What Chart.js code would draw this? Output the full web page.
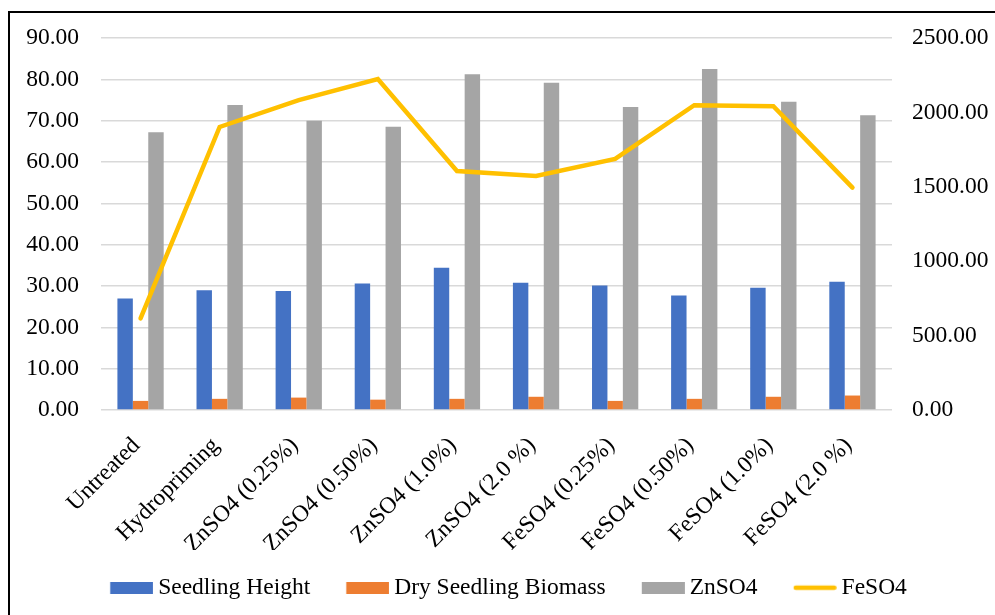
<!DOCTYPE html>
<html>
<head>
<meta charset="utf-8">
<script src="https://cdn.jsdelivr.net/npm/chart.js@4/dist/chart.umd.min.js"></script>
<style>
  html, body { margin: 0; padding: 0; background: #fff; overflow: hidden; }
  #wrap { position: relative; width: 995px; height: 615px; }
  #frame { position: absolute; left: 8px; top: 11px; width: 1100px; height: 700px; border: 2px solid #000; box-sizing: border-box; }
  canvas { position: absolute; left: 0; top: 0; }
</style>
</head>
<body>
<div id="wrap">
  <div id="frame"></div>
  <canvas id="c" width="995" height="615"></canvas>
</div>
<script>
const treatments = ['Untreated', 'Hydropriming', 'ZnSO4 (0.25%)', 'ZnSO4 (0.50%)', 'ZnSO4 (1.0%)',
  'ZnSO4 (2.0 %)', 'FeSO4 (0.25%)', 'FeSO4 (0.50%)', 'FeSO4 (1.0%)', 'FeSO4 (2.0 %)'];
const seedlingHeight = [27.0, 29.0, 28.8, 30.6, 34.4, 30.8, 30.1, 27.7, 29.6, 31.0];
const drySeedlingBiomass = [2.2, 2.7, 3.0, 2.5, 2.7, 3.2, 2.2, 2.7, 3.2, 3.5];
const znso4 = [67.2, 73.8, 70.0, 68.5, 81.2, 79.2, 73.3, 82.5, 74.6, 71.3];
const feso4 = [616, 1902, 2083, 2224, 1606, 1573, 1687, 2048, 2041, 1494];
const leftTicks = [0, 10, 20, 30, 40, 50, 60, 70, 80, 90];
const rightTicks = [0, 500, 1000, 1500, 2000, 2500];

const FONT = { family: '"Liberation Serif", "Times New Roman", serif', size: 23.5 };
const INK = '#000';

// Legend keys are drawn off-screen: a wide slot whose swatch hugs the right
// edge, so each key sits close to its own text and far from the previous one.
const KEY_W = 46.25;
function keySwatch(color, isLine) {
  const c = document.createElement('canvas');
  c.width = 60; c.height = 12;
  const g = c.getContext('2d');
  if (isLine) {
    g.strokeStyle = color; g.lineWidth = 4.5; g.lineCap = 'round';
    g.beginPath(); g.moveTo(19, 6); g.lineTo(57.5, 6); g.stroke();
  } else {
    g.fillStyle = color; g.fillRect(16.9, 0, 43, 12);
  }
  return c;
}

new Chart(document.getElementById('c'), {
  data: {
    labels: treatments,
    datasets: [
      { type: 'bar', label: 'Seedling Height', data: seedlingHeight, backgroundColor: '#4472C4', yAxisID: 'y', order: 1 },
      { type: 'bar', label: 'Dry Seedling Biomass', data: drySeedlingBiomass, backgroundColor: '#ED7D31', yAxisID: 'y', order: 1 },
      { type: 'bar', label: 'ZnSO4', data: znso4, backgroundColor: '#A5A5A5', yAxisID: 'y', order: 1 },
      { type: 'line', label: 'FeSO4', data: feso4, borderColor: '#FFC000', backgroundColor: '#FFC000',
        borderWidth: 4.5, borderCapStyle: 'round', borderJoinStyle: 'miter', pointRadius: 0, tension: 0,
        yAxisID: 'y1', order: 0 }
    ]
  },
  options: {
    responsive: false,
    animation: false,
    events: [],
    layout: { padding: { left: 12, right: 0, top: 38, bottom: 5.5 } },
    datasets: { bar: { categoryPercentage: 0.585, barPercentage: 1.0 } },
    scales: {
      x: {
        grid: { display: false },
        border: { display: false },
        ticks: { font: FONT, color: INK, minRotation: 45, maxRotation: 45, padding: 14, labelOffset: -4, autoSkip: false },
        afterFit(s) { s.height = 140; }
      },
      y: {
        position: 'left', min: 0, max: 90,
        afterBuildTicks(s) { s.ticks = leftTicks.map(v => ({ value: v })); },
        grid: { color: '#D9D9D9', lineWidth: 1.5, drawTicks: false },
        border: { display: false },
        ticks: { font: FONT, color: INK, padding: 22, callback: v => Number(v).toFixed(2) },
        afterFit(s) { s.width = 89; }
      },
      y1: {
        position: 'right', min: 0, max: 2500,
        afterBuildTicks(s) { s.ticks = rightTicks.map(v => ({ value: v })); },
        grid: { drawOnChartArea: false, drawTicks: false },
        border: { display: false },
        ticks: { font: FONT, color: INK, padding: 20, callback: v => Number(v).toFixed(2) },
        afterFit(s) { s.width = 103; }
      }
    },
    plugins: {
      tooltip: { enabled: false },
      legend: {
        position: 'bottom',
        labels: {
          font: FONT, color: INK, padding: 26,
          usePointStyle: true, pointStyleWidth: KEY_W, boxHeight: 12,
          sort: (a, b) => a.datasetIndex - b.datasetIndex,
          generateLabels(chart) {
            const items = Chart.defaults.plugins.legend.labels.generateLabels(chart);
            items.forEach(it => {
              const ds = chart.data.datasets[it.datasetIndex];
              const isLine = ds.type === 'line';
              it.pointStyle = keySwatch(isLine ? ds.borderColor : ds.backgroundColor, isLine);
              it.lineWidth = 0;
            });
            return items;
          }
        }
      }
    }
  }
});
</script>
</body>
</html>
